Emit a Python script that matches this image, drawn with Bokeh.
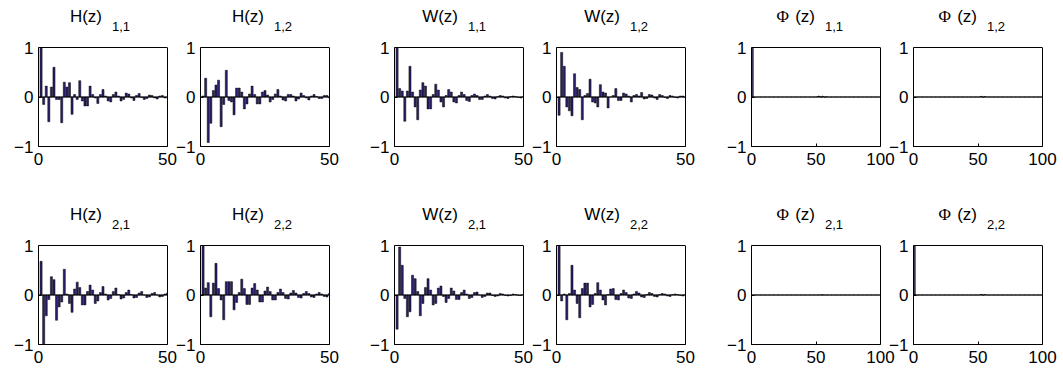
from bokeh.plotting import figure
from bokeh.models import Range1d, FixedTicker, Span, ColumnDataSource, LinearAxis
from bokeh.layouts import column, row
from bokeh.core.properties import value
from bokeh.embed import file_html
from bokeh.resources import INLINE

# ---------------- data ----------------
lags50 = list(range(1, 51))
lags100 = list(range(1, 101))
xticks_h = [0, 50]
xticks_phi = [0, 50, 100]
yticks = [-1, 0, 1]

h11 = [1.00, -0.15, 0.22, -0.50, 0.20, 0.60, -0.05, -0.05, -0.52, 0.30,
       0.20, 0.29, -0.35, 0.05, -0.05, 0.33, -0.08, -0.18, -0.18, 0.22,
       0.05, -0.02, -0.13, 0.05, 0.15, 0.02, -0.08, -0.10, 0.05, 0.10,
       0.02, -0.08, -0.05, 0.08, 0.06, -0.02, -0.07, 0.03, 0.07, -0.01,
       -0.05, -0.03, 0.04, 0.03, -0.02, -0.04, 0.02, 0.03, -0.02, -0.02]
h12 = [0.02, 0.38, -0.92, -0.53, 0.13, 0.24, 0.34, -0.60, -0.15, 0.54,
       -0.07, -0.10, -0.36, 0.18, 0.18, 0.10, -0.24, -0.14, 0.06, 0.22,
       0.05, -0.14, -0.14, 0.10, 0.13, 0.04, -0.10, -0.05, 0.06, 0.15,
       0.02, -0.06, -0.08, 0.05, 0.05, 0.02, -0.08, -0.04, 0.08, 0.03,
       -0.02, -0.06, 0.02, 0.05, 0.01, -0.03, -0.03, 0.03, 0.03, -0.02]
w11 = [1.00, 0.17, 0.12, -0.49, 0.12, 0.62, 0.10, -0.20, -0.46, 0.14,
       0.29, 0.22, -0.24, -0.24, 0.05, 0.26, 0.14, -0.10, -0.20, 0.03,
       0.15, 0.10, -0.10, -0.12, 0.03, 0.10, 0.05, -0.07, -0.09, 0.03,
       0.06, 0.03, -0.05, -0.05, 0.02, 0.05, 0.02, -0.03, -0.04, 0.01,
       0.03, 0.02, -0.02, -0.03, 0.01, 0.02, 0.01, -0.01, -0.02, 0.01]
w12 = [-0.37, 0.90, 0.62, -0.20, -0.28, -0.38, 0.47, 0.19, 0.15, -0.46,
       0.03, 0.07, 0.36, -0.10, -0.12, -0.20, 0.25, 0.10, 0.08, -0.22,
       0.00, 0.03, 0.17, -0.07, -0.07, 0.08, 0.06, 0.02, -0.10, 0.03,
       0.05, 0.02, 0.09, -0.04, -0.03, 0.05, 0.04, -0.02, -0.05, 0.05,
       0.03, -0.01, -0.03, 0.03, 0.02, -0.01, -0.02, 0.02, 0.02, -0.01]
h21 = [0.68, -1.00, -0.42, -0.09, 0.37, 0.31, -0.51, -0.24, -0.14, 0.52,
       0.02, -0.17, -0.35, 0.12, 0.26, 0.15, -0.20, -0.20, 0.07, 0.20,
       0.10, -0.17, -0.12, 0.05, 0.17, 0.02, -0.10, -0.07, 0.07, 0.14,
       0.01, -0.08, -0.06, 0.05, 0.10, 0.01, -0.06, -0.05, 0.04, 0.07,
       0.00, -0.05, -0.04, 0.03, 0.05, 0.00, -0.04, -0.03, 0.02, 0.04]
h22 = [1.00, 0.14, 0.25, -0.44, 0.24, 0.64, 0.13, -0.10, -0.50, 0.27,
       0.27, 0.27, -0.30, -0.15, 0.05, 0.32, 0.13, -0.19, -0.19, 0.14,
       0.23, 0.10, -0.14, -0.14, 0.08, 0.16, 0.07, -0.10, -0.10, 0.05,
       0.12, 0.05, -0.07, -0.08, 0.04, 0.09, 0.04, -0.05, -0.06, 0.03,
       0.07, 0.03, -0.04, -0.05, 0.02, 0.05, 0.02, -0.03, -0.04, 0.03]
w21 = [-0.69, 0.97, 0.60, -0.07, -0.44, -0.34, 0.40, 0.33, 0.07, -0.42,
       -0.17, 0.15, 0.33, 0.10, -0.20, -0.17, 0.14, 0.18, -0.03, -0.15,
       -0.07, 0.14, 0.08, -0.09, -0.09, 0.05, 0.10, 0.02, -0.07, -0.05,
       0.05, 0.06, 0.00, -0.05, -0.03, 0.04, 0.04, -0.01, -0.03, -0.02,
       0.03, 0.02, -0.01, -0.02, -0.01, 0.02, 0.01, -0.01, -0.01, 0.01]
w22 = [1.00, -0.12, 0.02, -0.50, 0.03, 0.60, 0.10, -0.17, -0.46, 0.13,
       0.24, 0.24, -0.24, -0.19, 0.03, 0.25, 0.10, -0.10, -0.20, 0.01,
       0.12, 0.13, -0.09, -0.10, 0.03, 0.10, 0.05, -0.06, -0.07, 0.02,
       0.07, 0.04, -0.04, -0.05, 0.01, 0.05, 0.03, -0.03, -0.04, 0.01,
       0.03, 0.02, -0.02, -0.03, 0.01, 0.02, 0.01, -0.01, -0.02, 0.01]
phi11 = [1.0] + [0.0] * 49 + [0.01, 0.02, 0.015, -0.01, 0.02, 0.01, -0.01, 0.01] + [0.0] * 42
phi12 = [0.0] * 51 + [0.01, 0.015, -0.01, 0.01, 0.005] + [0.0] * 44
phi21 = [0.0] * 53 + [0.01, -0.005, 0.005] + [0.0] * 44
phi22 = [1.0] + [0.0] * 50 + [0.01, 0.015, -0.01, 0.01, 0.005] + [0.0] * 44

# ---------------- style / layout ----------------
FONT = "Liberation Sans"
SERIF = "Liberation Serif"
BAR_FILL = "#2B1F6B"
TICK_SIZE = "17px"
TITLE_SIZE = "17px"
SUB_SIZE = "13px"
BOX_LW = 1
BOX_W = 129           # axes box width in px
BOX_H = 99            # axes box height in px
BR = 18               # right border of each canvas
col_bl = [38, 30, 30, 30, 30, 30]           # left border of each canvas
col_margin = [0, -15, 17, -15, 18, -15]     # horizontal offset between canvases
rows_cfg = [(47, 39), (60, 32)]             # (space above box, space below box)


def panel(lags, vals, xticks, main, sub, phi, bl, ml, top_space, bb):
    xmin, xmax = xticks[0], xticks[-1]
    ymin, ymax = yticks[0], yticks[-1]
    uy = (ymax - ymin) / BOX_H          # data units per px (y)
    ux = (xmax - xmin) / BOX_W          # data units per px (x)
    p = figure(width=bl + BOX_W + BR, height=top_space + BOX_H + bb,
               x_range=Range1d(xmin, xmax), y_range=Range1d(ymin, ymax + top_space * uy),
               output_backend="svg", toolbar_location=None, title_location=None,
               min_border_left=bl, min_border_right=BR,
               min_border_top=0, min_border_bottom=bb,
               margin=(0, 0, 0, ml))
    p.grid.visible = False
    p.outline_line_color = None
    p.background_fill_color = None
    p.border_fill_color = None
    src = ColumnDataSource(dict(x=lags, top=vals))
    p.vbar(x="x", top="top", bottom=0, width=0.8, source=src,
           fill_color=BAR_FILL, line_color="black", line_width=0.5)
    p.add_layout(Span(location=0, dimension="width", line_color="black", line_width=1))
    # top edge of the axes box
    p.add_layout(Span(location=ymax, dimension="width", line_color="black", line_width=BOX_LW))

    xax = p.xaxis[0]
    yax = p.yaxis[0]
    xax.ticker = FixedTicker(ticks=xticks)
    yax.ticker = FixedTicker(ticks=yticks)
    yax.major_label_overrides = {-1: "\u22121", 0: "0", 1: "1"}
    yax.bounds = (ymin, ymax)
    for ax in (xax, yax):
        ax.axis_line_color = "black"
        ax.axis_line_width = BOX_LW
        ax.major_tick_in = 3
        ax.major_tick_out = 0
        ax.major_tick_line_color = "black"
        ax.minor_tick_line_color = None
        ax.major_label_text_font = FONT
        ax.major_label_text_font_size = TICK_SIZE
        ax.major_label_text_color = "black"
    yax.major_label_standoff = 5
    xax.major_label_standoff = 6

    # right edge of the axes box (no ticks, no labels)
    p.add_layout(LinearAxis(ticker=FixedTicker(ticks=[]), bounds=(ymin, ymax),
                            axis_line_color="black", axis_line_width=BOX_LW,
                            major_tick_line_color=None, minor_tick_line_color=None,
                            major_label_text_color=None), "right")

    # titles (placed in the area above the axes box)
    cx = (xmin + xmax) / 2
    p.text(x=[cx - 1 * ux], y=[ymax + 31 * uy], text=[main], text_align="right",
           text_baseline="middle", text_font=value(FONT),
           text_font_size=value(TITLE_SIZE), text_color="black")
    if phi:
        p.text(x=[cx - 27 * ux], y=[ymax + 31 * uy], text=["\u03a6"], text_align="right",
               text_baseline="middle", text_font=value(SERIF),
               text_font_size=value(TITLE_SIZE), text_color="black")
    p.text(x=[cx + 9 * ux], y=[ymax + 21.5 * uy], text=[sub], text_align="left",
           text_baseline="middle", text_font=value(FONT),
           text_font_size=value(SUB_SIZE), text_color="black")
    return p


specs1 = [
    (lags50, h11, xticks_h, "H(z)", "1,1", False),
    (lags50, h12, xticks_h, "H(z)", "1,2", False),
    (lags50, w11, xticks_h, "W(z)", "1,1", False),
    (lags50, w12, xticks_h, "W(z)", "1,2", False),
    (lags100, phi11, xticks_phi, "(z)", "1,1", True),
    (lags100, phi12, xticks_phi, "(z)", "1,2", True),
]
specs2 = [
    (lags50, h21, xticks_h, "H(z)", "2,1", False),
    (lags50, h22, xticks_h, "H(z)", "2,2", False),
    (lags50, w21, xticks_h, "W(z)", "2,1", False),
    (lags50, w22, xticks_h, "W(z)", "2,2", False),
    (lags100, phi21, xticks_phi, "(z)", "2,1", True),
    (lags100, phi22, xticks_phi, "(z)", "2,2", True),
]

rows = []
for specs, (ts, bb) in zip((specs1, specs2), rows_cfg):
    figs = [panel(*s, bl=bl, ml=ml, top_space=ts, bb=bb)
            for s, bl, ml in zip(specs, col_bl, col_margin)]
    rows.append(row(*figs))

layout = column(*rows)
open("out.html", "w").write(file_html(layout, INLINE))
